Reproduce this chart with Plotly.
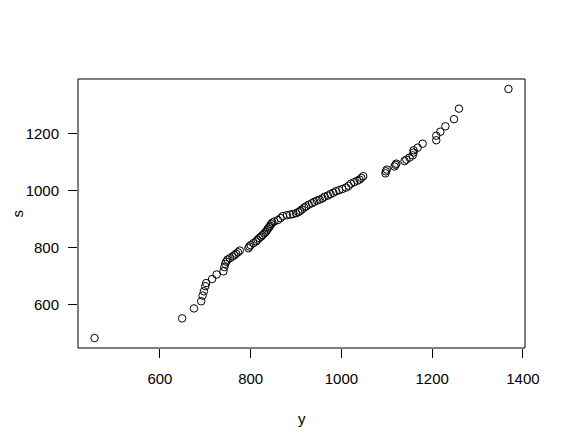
import plotly.graph_objects as go

y_vals = [456, 649, 675, 691, 694, 697, 700, 702, 715, 725, 740, 742, 744, 746, 749,
          754, 760, 764, 768, 772, 776, 795, 797, 800, 806, 812, 815, 819, 823, 826,
          830, 833, 836, 838, 841, 843, 845, 848, 852, 860, 866, 871, 880, 887, 893,
          900, 905, 909, 913, 918, 922, 928, 935, 940, 946, 952, 958, 963, 970, 976,
          982, 988, 995, 1002, 1010, 1016, 1021, 1028, 1035, 1040, 1044, 1048, 1097, 1098, 1100,
          1117, 1119, 1121, 1139, 1143, 1150, 1157, 1159, 1159, 1168, 1179, 1209, 1209, 1218, 1229,
          1248, 1259, 1368]
s_vals = [482, 551, 586, 611, 631, 646, 664, 675, 689, 705, 716, 731, 742, 750, 757,
          762, 768, 773, 778, 783, 789, 797, 803, 808, 815, 821, 827, 833, 838, 843,
          849, 854, 860, 866, 871, 876, 882, 887, 891, 896, 903, 910, 913, 915, 917,
          920, 924, 928, 933, 940, 944, 950, 955, 960, 964, 968, 972, 978, 982, 987,
          992, 997, 1001, 1005, 1010, 1016, 1024, 1029, 1034, 1038, 1044, 1050, 1060, 1067, 1073,
          1084, 1090, 1094, 1103, 1108, 1115, 1123, 1133, 1141, 1150, 1164, 1176, 1192, 1206, 1225,
          1250, 1287, 1356]
x_ticks = [600, 800, 1000, 1200, 1400]
y_ticks = [600, 800, 1000, 1200]
x_title = "y"
y_title = "s"

font = dict(family="Liberation Sans, Arial, sans-serif", size=15, color="black")

fig = go.Figure()
fig.add_trace(go.Scatter(
    x=y_vals, y=s_vals, mode="markers",
    marker=dict(symbol="circle-open", size=7.5, color="black", line=dict(width=1, color="black")),
    showlegend=False, hoverinfo="skip"))

xmin, xmax = min(y_vals), max(y_vals)
ymin, ymax = min(s_vals), max(s_vals)
dx = (xmax - xmin) * 0.04
dy = (ymax - ymin) * 0.04

fig.update_layout(
    width=566, height=447,
    margin=dict(l=70, r=49, t=71, b=107),
    paper_bgcolor="white", plot_bgcolor="white",
    font=font,
    xaxis=dict(range=[xmin - dx, xmax + dx], tickvals=x_ticks, ticks="outside", ticklen=9,
               tickwidth=1, tickcolor="black", showgrid=False, zeroline=False, showline=False,
               tickfont=font, ticklabelstandoff=8),
    yaxis=dict(range=[ymin - dy, ymax + dy], tickvals=y_ticks, ticks="outside", ticklen=9,
               tickwidth=1, tickcolor="black", showgrid=False, zeroline=False, showline=False,
               tickfont=font, ticklabelstandoff=6),
    shapes=[dict(type="rect", xref="paper", yref="paper", x0=0, y0=0, x1=1, y1=1,
                 line=dict(color="black", width=1))],
    annotations=[
        dict(text=x_title, xref="paper", yref="paper", x=0.5, y=0, xanchor="center",
             yanchor="middle", yshift=-70, showarrow=False, font=font),
        dict(text=y_title, xref="paper", yref="paper", x=0, y=0.5, xanchor="center",
             yanchor="middle", xshift=-61, textangle=-90, showarrow=False, font=font),
    ],
)
fig.write_html("out.html")
